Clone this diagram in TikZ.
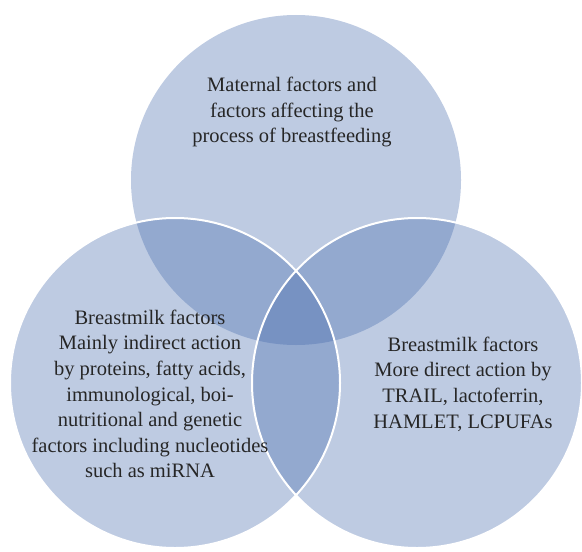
\documentclass[tikz,border=0pt]{standalone}
\usepackage{fontspec}
\setmainfont{Liberation Serif}
\definecolor{vennblue}{RGB}{64,102,170}
\begin{document}
\begin{tikzpicture}[x=0.5pt,y=-0.5pt,
    lobe/.style={fill=vennblue, fill opacity=0.34},
    rim/.style={draw=white, line width=1pt},
    factors/.style={align=center, inner sep=0pt, text=black!85,
      font=\fontsize{10.25pt}{12.8pt}\selectfont}]
  \useasboundingbox (0,0) rectangle (582,551);
  % the three circles
  \fill[lobe] (296,180) circle[radius=165];
  \fill[lobe] (175,383) circle[radius=165];
  \fill[lobe] (417,383) circle[radius=165];
  \draw[rim] (175,383) circle[radius=165];
  \draw[rim] (417,383) circle[radius=165];
  % texts
  \node[factors] (maternal) at (292,112) {Maternal factors and\\factors affecting the\\process of breastfeeding};
  \node[factors] (indirect) at (150,394) {Breastmilk factors\\Mainly indirect action\\by proteins, fatty acids,\\immunological, boi-\\nutritional and genetic\\factors including nucleotides\\such as miRNA};
  \node[factors] (direct) at (463,384) {Breastmilk factors\\More direct action by\\TRAIL, lactoferrin,\\HAMLET, LCPUFAs};
\end{tikzpicture}
\end{document}
